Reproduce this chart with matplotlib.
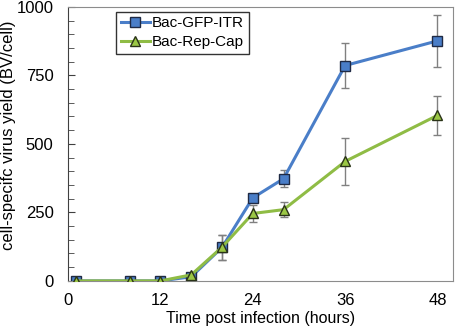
import matplotlib
matplotlib.use("Agg")
import matplotlib.pyplot as plt
from matplotlib.ticker import MultipleLocator

plt.rcParams['font.family'] = ['Liberation Sans', 'DejaVu Sans']

hours = [1, 8, 12, 16, 20, 24, 28, 36, 48]
gfp_itr = [0, 0, 0, 15, 122, 303, 373, 786, 876]
gfp_err = [0, 0, 0, 5, 45, 10, 30, 82, 94]
rep_cap = [0, 0, 0, 22, 123, 246, 260, 436, 604]
rep_err = [0, 0, 0, 5, 45, 30, 28, 87, 72]
x_ticks = [0, 12, 24, 36, 48]
y_ticks = [0, 250, 500, 750, 1000]

fig = plt.figure(figsize=(4.57, 3.27), dpi=100)
ax = fig.add_axes([0.149, 0.141, 0.842, 0.838])

# error bars first, behind the lines
ax.errorbar(hours, gfp_itr, yerr=gfp_err, fmt="none", ecolor="#808080",
            elinewidth=1, capsize=3, zorder=1)
ax.errorbar(hours, rep_cap, yerr=rep_err, fmt="none", ecolor="#808080",
            elinewidth=1, capsize=3, zorder=1)

ax.plot(hours, gfp_itr, color="#4a7ec8", lw=2.2, marker="s", ms=6.5,
        mfc="#4a7ec8", mec="#1f2a44", mew=1, label="Bac-GFP-ITR", zorder=2)
ax.plot(hours, rep_cap, color="#8fbc45", lw=2.2, marker="^", ms=7.5,
        mfc="#9bc745", mec="#2a3318", mew=1, label="Bac-Rep-Cap", zorder=3)

ax.set_xlim(0, 50)
ax.set_ylim(0, 1000)
ax.set_xticks(x_ticks)
ax.set_yticks(y_ticks)
ax.yaxis.set_minor_locator(MultipleLocator(50))
ax.tick_params(axis="x", length=0, labelsize=12, pad=9)
ax.tick_params(axis="y", which="both", direction="in", labelsize=12,
               color="#404040", pad=10.5)
ax.tick_params(axis="y", which="major", length=5)
ax.tick_params(axis="y", which="minor", length=4)

for s in ["top", "right", "bottom"]:
    ax.spines[s].set_color("#8c8c8c")
ax.spines["left"].set_color("#404040")

ax.set_xlabel("Time post infection (hours)", fontsize=11.5, labelpad=2)
ax.set_ylabel("cell-specifc virus yield (BV/cell)", fontsize=12)
ax.yaxis.set_label_coords(-0.136, 0.53)

leg = ax.legend(loc="upper left", bbox_to_anchor=(0.125, 0.982), fontsize=11,
                frameon=True, fancybox=False, edgecolor="black",
                handlelength=1.9, handletextpad=0.15, borderpad=0.3,
                labelspacing=0.3, borderaxespad=0)
leg.get_frame().set_linewidth(1)

fig.savefig("out.png", dpi=100)
